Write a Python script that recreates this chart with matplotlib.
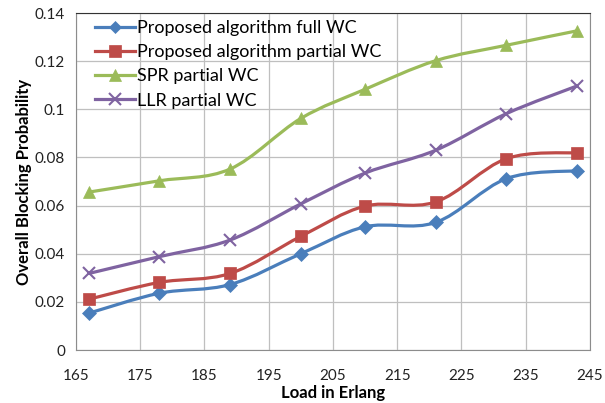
import numpy as np
import matplotlib
matplotlib.use("Agg")
import matplotlib.pyplot as plt
from matplotlib.path import Path
from matplotlib.patches import PathPatch

load = [167, 178, 189, 200, 210, 221, 232, 243]
full_wc = [0.0153, 0.0236, 0.0272, 0.0400, 0.0512, 0.0530, 0.0712, 0.0745]
partial_wc = [0.0211, 0.0281, 0.0318, 0.0472, 0.0598, 0.0615, 0.0795, 0.0820]
spr_wc = [0.0656, 0.0703, 0.0752, 0.0962, 0.1083, 0.1202, 0.1266, 0.1326]
llr_wc = [0.0318, 0.0388, 0.0457, 0.0607, 0.0735, 0.0830, 0.0982, 0.1097]

labels = ["Proposed algorithm full WC", "Proposed algorithm partial WC",
          "SPR partial WC", "LLR partial WC"]
colors = ["#4A7EBB", "#BE4B48", "#9BBB59", "#7F63A1"]
markers = ["D", "s", "^", "x"]
msizes = [7, 9, 9, 9]

xticks = [165, 175, 185, 195, 205, 215, 225, 235, 245]
yticks = [0, 0.02, 0.04, 0.06, 0.08, 0.1, 0.12, 0.14]
ytick_labels = ["0", "0.02", "0.04", "0.06", "0.08", "0.1", "0.12", "0.14"]


def smooth_path(x, y):
    # bezier through the points, like excel's smoothed line
    pts = np.column_stack([x, y]).astype(float)
    n = len(pts)
    verts = [pts[0]]
    codes = [Path.MOVETO]
    for i in range(n - 1):
        p0 = pts[max(i - 1, 0)]
        p1 = pts[i]
        p2 = pts[i + 1]
        p3 = pts[min(i + 2, n - 1)]
        verts += [p1 + (p2 - p0) / 6, p2 - (p3 - p1) / 6, p2]
        codes += [Path.CURVE4] * 3
    return Path(verts, codes)


plt.rcParams['font.family'] = ['Lato', 'DejaVu Sans']
fig = plt.figure(figsize=(6.05, 4.03), dpi=100)
ax = fig.add_axes([0.1256, 0.1315, 0.8494, 0.8362])

for ys, lab, c, m, ms in zip([full_wc, partial_wc, spr_wc, llr_wc],
                             labels, colors, markers, msizes):
    ax.add_patch(PathPatch(smooth_path(load, ys), facecolor="none",
                           edgecolor=c, lw=2.3, zorder=3))
    ax.plot(load, ys, linestyle="none", marker=m, color=c, markersize=ms,
            markeredgewidth=1.5 if m == "x" else 0.5, zorder=4)
    ax.plot([], [], color=c, lw=2.3, marker=m, markersize=ms - 1,
            markeredgewidth=1.5 if m == "x" else 0.5, label=lab)

ax.set_xlim(165, 245)
ax.set_ylim(0, 0.14)
ax.set_xticks(xticks)
ax.set_yticks(yticks)
ax.set_yticklabels(ytick_labels)
ax.grid(True, color="#BFBFBF", lw=0.9)
ax.set_axisbelow(True)
ax.tick_params(length=0, labelsize=11, colors="#222222", pad=8)
ax.tick_params(axis="x", pad=14)
for s in ["left", "bottom", "right"]:
    ax.spines[s].set_color("#8C8C8C")
ax.spines["top"].set_color("#333333")

ax.set_xlabel("Load in Erlang", fontsize=12, fontweight="bold", labelpad=1)
ax.set_ylabel("Overall Blocking Probability", fontsize=12, fontweight="bold",
              labelpad=2)

ax.legend(loc="upper left", frameon=False, fontsize=13, handlelength=2.2,
          handletextpad=0.1, labelspacing=0.45, borderaxespad=0.0,
          bbox_to_anchor=(0.023, 1.0))

fig.savefig("out.png", dpi=100)
